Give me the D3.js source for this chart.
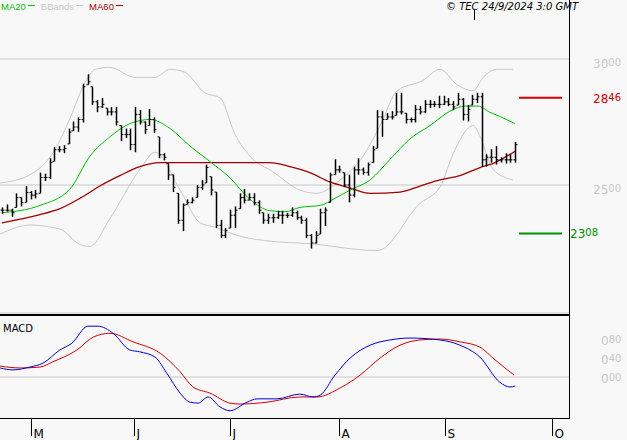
<!DOCTYPE html>
<html><head><meta charset="utf-8">
<script src="https://cdn.jsdelivr.net/npm/d3@7/dist/d3.min.js"></script>
<style>body{margin:0;background:#f8f8f8}svg{display:block;font-family:"DejaVu Sans",sans-serif}</style>
</head><body><svg id="c" width="627" height="440"></svg>
<script>
const highs=[2411,2423,2406,2467,2451,2496,2476,2480,2549,2545,2606,2650,2654,2658,2724,2752,2768,2902,2939,2890,2837,2845,2805,2809,2809,2736,2724,2724,2809,2797,2752,2801,2768,2691,2626,2585,2541,2467,2427,2443,2451,2500,2520,2581,2533,2472,2362,2329,2402,2415,2467,2484,2467,2467,2439,2390,2386,2386,2398,2398,2390,2411,2398,2378,2370,2305,2317,2406,2411,2549,2602,2577,2549,2541,2573,2606,2569,2589,2654,2797,2793,2785,2793,2866,2866,2785,2768,2817,2813,2837,2837,2833,2854,2854,2845,2833,2866,2845,2817,2858,2866,2866,2622,2642,2654,2610,2626,2622,2671];
const lows=[2386,2394,2374,2411,2415,2431,2443,2447,2467,2516,2524,2594,2630,2626,2663,2715,2711,2748,2898,2817,2789,2805,2776,2776,2736,2675,2687,2638,2630,2740,2703,2736,2707,2606,2598,2520,2472,2346,2317,2423,2427,2451,2480,2508,2459,2329,2289,2289,2329,2329,2406,2427,2439,2419,2386,2346,2346,2350,2366,2346,2370,2374,2362,2346,2289,2248,2268,2305,2337,2431,2541,2549,2492,2431,2451,2541,2541,2537,2589,2646,2691,2760,2760,2776,2780,2744,2748,2748,2780,2785,2805,2809,2805,2817,2813,2797,2817,2756,2752,2817,2825,2573,2573,2589,2581,2589,2585,2589,2589];
const closes=[2400,2400,2390,2450,2430,2470,2460,2465,2530,2530,2590,2640,2640,2645,2710,2730,2760,2890,2910,2830,2810,2820,2790,2790,2750,2700,2700,2660,2780,2750,2720,2760,2720,2620,2610,2540,2490,2360,2420,2430,2440,2490,2500,2570,2480,2340,2300,2320,2380,2400,2450,2440,2450,2430,2400,2360,2370,2370,2380,2380,2380,2390,2370,2360,2300,2270,2300,2390,2400,2540,2560,2560,2500,2460,2560,2560,2550,2580,2640,2770,2760,2770,2770,2790,2790,2760,2760,2800,2790,2820,2820,2820,2820,2830,2820,2810,2840,2780,2800,2840,2850,2600,2610,2610,2600,2600,2600,2600,2660];
const ma20=[[0,2390],[8,2419],[14.3,2484],[18.5,2614],[22.7,2691],[27,2744],[31.2,2760],[35.4,2724],[39.6,2654],[43.8,2593],[48,2528],[52.2,2443],[56.4,2398],[59.6,2394],[62.7,2411],[67,2419],[70.1,2447],[73.3,2480],[77.5,2520],[81.7,2602],[85.9,2683],[90.1,2736],[94.3,2793],[97.5,2813],[100.2,2813],[102.7,2789],[104.8,2772],[108,2744]];
const ma60=[[0,2350],[8,2382],[12.2,2406],[16.4,2447],[20.6,2496],[24.8,2537],[29,2573],[33.3,2589],[41.7,2589],[50.1,2589],[56.4,2589],[60.6,2573],[64.8,2549],[69,2512],[73.3,2488],[77.5,2467],[83.8,2472],[88,2496],[92.2,2520],[96.4,2537],[100.6,2569],[103.8,2589],[108,2634]];
const bbUp=[[-0.4,2508],[5.9,2541],[11.2,2642],[14.3,2764],[17.5,2907],[19.6,2959],[22.7,2967],[28,2927],[32.2,2927],[35.4,2959],[38.5,2947],[42.7,2866],[45.9,2846],[49,2703],[52.2,2614],[57,2553],[62.7,2480],[66.3,2467],[71.2,2520],[76,2614],[79.6,2736],[83.2,2874],[88.6,2915],[92.2,2959],[95.8,2898],[99.2,2874],[101.3,2927],[104.2,2959],[107.6,2959]];
const bbLow=[[-0.4,2305],[5.9,2341],[12.2,2325],[16.4,2264],[18.5,2256],[22.7,2366],[29,2561],[32.2,2630],[37.5,2480],[41.7,2350],[44.8,2333],[50.1,2297],[57,2276],[64.2,2268],[79,2240],[88,2427],[92.2,2492],[95.4,2642],[99.2,2736],[100.6,2695],[103.4,2561],[107.6,2520]];
const macd=[[-0.4,0.19],[2.3,0.15],[5.9,0.21],[8.6,0.29],[12.2,0.57],[14.7,0.71],[18.1,1.07],[20.2,1.07],[23.4,0.92],[26.9,0.57],[29,0.53],[32.2,0.42],[34.7,0.08],[37.5,-0.34],[39.6,-0.53],[41.3,-0.55],[43.4,-0.42],[45.9,-0.63],[48,-0.71],[51.6,-0.53],[53.7,-0.46],[57.9,-0.46],[62.7,-0.36],[65.5,-0.42],[67,-0.38],[70.1,0.04],[73.3,0.40],[77.5,0.67],[81.7,0.78],[85.9,0.82],[92.2,0.78],[96.4,0.67],[100.6,0.42],[104.8,-0.11],[106.9,-0.21],[108,-0.19]];
const signal=[[-0.4,0.23],[3.8,0.19],[8,0.21],[10.7,0.32],[15.8,0.57],[19.2,0.84],[22.7,0.92],[27.6,0.74],[33.3,0.50],[37.5,0.11],[40.2,-0.21],[43.8,-0.34],[48,-0.55],[50.1,-0.57],[55.8,-0.53],[62.7,-0.42],[66.3,-0.42],[71.2,-0.23],[75.4,0.04],[79.6,0.40],[83.8,0.67],[88,0.78],[92.2,0.80],[96.4,0.74],[100.6,0.63],[103.8,0.36],[107.8,0.04]];
const monthLabels=["M","J","J","A","S","O"];
const monthIdx=[6.1,27.8,48,71,93.3,115.8];
const priceTicks=[3000,2500];
const macdTicks=[0.8,0.4,0];
const resistance=2846, support=2308;
const legendNames=["MA20","BBands","MA60"];
const legendColors=["#00c000","#c8c8c8","#a00000"];

const svg=d3.select("#c");
const x=d3.scaleLinear().domain([0,108]).range([2,515]);
const y=d3.scaleLinear().domain([2500,3000]).range([185,59]);
const ym=d3.scaleLinear().domain([0,0.4]).range([377,358]);
const R=569;

svg.selectAll(".pg").data(priceTicks).join("line").attr("x1",0).attr("x2",R).attr("y1",d=>y(d)).attr("y2",d=>y(d)).attr("stroke","#c8c8c8");
svg.append("line").attr("x1",0).attr("x2",R).attr("y1",ym(0)).attr("y2",ym(0)).attr("stroke","#c8c8c8");
svg.append("line").attr("x1",R+0.5).attr("x2",R+0.5).attr("y1",0).attr("y2",419).attr("stroke","#000");
svg.append("line").attr("x1",0).attr("x2",R).attr("y1",313).attr("y2",313).attr("stroke","#c8c8c8");
svg.append("line").attr("x1",0).attr("x2",R).attr("y1",315).attr("y2",315).attr("stroke","#000").attr("stroke-width",2);
svg.append("line").attr("x1",0).attr("x2",R+1).attr("y1",418.5).attr("y2",418.5).attr("stroke","#000");
svg.append("line").attr("x1",474.5).attr("x2",474.5).attr("y1",10).attr("y2",20).attr("stroke","#000");

const line=(ys)=>d3.line().x(d=>x(d[0])).y(d=>ys(d[1])).curve(d3.curveMonotoneX);
svg.append("path").attr("d",line(y)(bbUp)).attr("fill","none").attr("stroke","#c8c8c8");
svg.append("path").attr("d",line(y)(bbLow)).attr("fill","none").attr("stroke","#c8c8c8");
svg.append("path").attr("d",line(y)(ma60)).attr("fill","none").attr("stroke","#a00000").attr("stroke-width",1.3);
svg.append("path").attr("d",line(y)(ma20)).attr("fill","none").attr("stroke","#00c000").attr("stroke-width",1);

const g=svg.append("g").attr("stroke","#000");
highs.forEach((h,i)=>{
  const cx=Math.round(x(i))+0.5;
  g.append("line").attr("x1",cx).attr("x2",cx).attr("y1",y(h)).attr("y2",y(lows[i])).attr("stroke-width",1.5);
  const o=i>0?closes[i-1]:closes[i];
  const oc=Math.max(lows[i],Math.min(h,o));
  g.append("line").attr("x1",cx-2).attr("x2",cx).attr("y1",y(oc)).attr("y2",y(oc));
  g.append("line").attr("x1",cx).attr("x2",cx+2).attr("y1",y(closes[i])).attr("y2",y(closes[i]));
});

svg.append("line").attr("x1",519).attr("x2",562).attr("y1",y(resistance)).attr("y2",y(resistance)).attr("stroke","#d00000").attr("stroke-width",2);
svg.append("line").attr("x1",519).attr("x2",562).attr("y1",y(support)).attr("y2",y(support)).attr("stroke","#009000").attr("stroke-width",2);
function lab(v,xx,yy,col){
  const s=String(v);
  const t=svg.append("text").attr("x",xx).attr("y",yy).attr("fill",col).attr("font-size",12);
  t.append("tspan").text(s.slice(0,2));
  t.append("tspan").attr("font-size",10).attr("dy",-2).text(s.slice(2));
}
priceTicks.forEach(v=>lab(v,593,y(v)+9,"#c8c8c8"));
lab(resistance,593,y(resistance)+5,"#d00000");
lab(support,570,y(support)+5,"#009000");
macdTicks.forEach(v=>{
  const t=svg.append("text").attr("x",601).attr("y",ym(v)+6).attr("fill","#c8c8c8").attr("font-size",10);
  t.append("tspan").attr("font-size",12).text("0");
  t.append("tspan").attr("dy",-2).text(d3.format(".2f")(v).slice(2));
});

svg.append("path").attr("d",line(ym)(signal)).attr("fill","none").attr("stroke","#d00000");
svg.append("path").attr("d",line(ym)(macd)).attr("fill","none").attr("stroke","#0000d0");
svg.append("text").attr("x",3).attr("y",332).attr("font-size",10).text("MACD");

monthIdx.forEach((m,i)=>{
  const xx=Math.round(x(m))+0.5;
  svg.append("line").attr("x1",xx).attr("x2",xx).attr("y1",419).attr("y2",436).attr("stroke","#000");
  svg.append("text").attr("x",xx+2).attr("y",438).attr("font-size",12).text(monthLabels[i]);
});

let lx=1;
legendNames.forEach((t,i)=>{
  const c=legendColors[i];
  const tx=svg.append("text").attr("x",lx).attr("y",10).attr("font-size",9.5)
     .attr("font-family","Liberation Sans, sans-serif").attr("fill",c).text(t);
  const w=tx.node().getComputedTextLength();
  svg.append("line").attr("x1",lx+w+2).attr("x2",lx+w+9).attr("y1",5.5).attr("y2",5.5).attr("stroke",c);
  lx+=w+15;
});
svg.append("text").attr("x",578).attr("y",10).attr("font-size",10).attr("font-style","italic").attr("text-anchor","end").text("© TEC 24/9/2024 3:0 GMT");
</script></body></html>
